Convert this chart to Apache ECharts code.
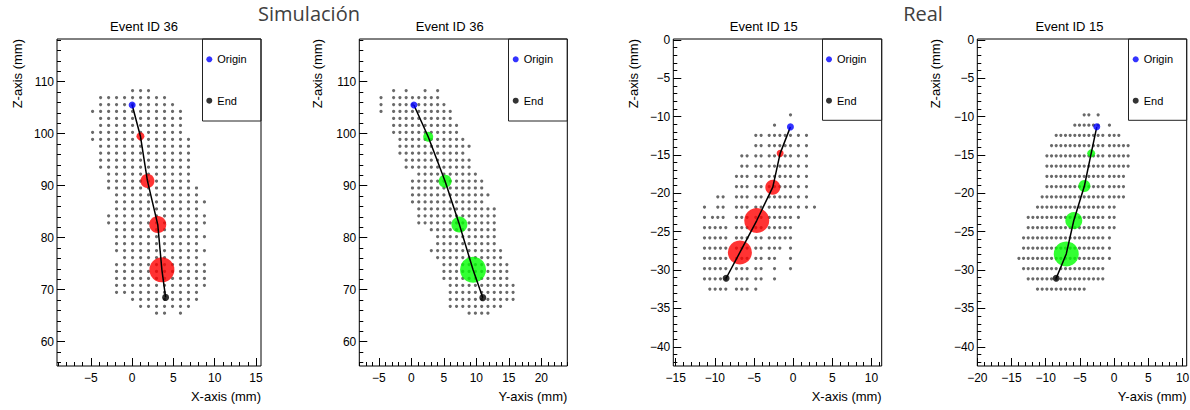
<!DOCTYPE html>
<html><head><meta charset="utf-8">
<script src="https://cdn.jsdelivr.net/npm/echarts@6/dist/echarts.min.js"></script>
<style>html,body{margin:0;padding:0;background:#fff}#c{width:1190px;height:410px}</style>
</head><body><div id="c"></div>
<script>
// ---------- DATA ----------
// Simulation (Event ID 36): z rows of the hit grid (mm)
const SIM_ROWS_Z = [108.27,106.93,105.59,104.26,102.92,101.58,100.24,98.90,97.57,96.23,94.89,93.55,92.21,90.88,89.54,88.20,86.86,85.52,84.19,82.85,81.51,80.17,78.83,77.50,76.16,74.82,73.48,72.14,70.81,69.47,68.13,66.79,65.45];
// X-Z view: hit columns (mm) and hit pattern per row
const SIM_XZ_COLS = [-4.79,-3.82,-2.85,-1.89,-0.92,0.05,1.02,1.98,2.95,3.92,4.89,5.85,6.82,7.79,8.75];
const SIM_XZ_HITS = [
".....xxx.......",".xxxxxxxxx.....",".xxxxxxxxxx....","xxxxxxxxxxxx...",".xxxxxxxxxxx...",
".xxxxxxxxxxx...","xxxxxxxxxxxx...","xxxxxxxxxxxxx..",".xxxxxxxxxxxx..",".xxxxxxxxxxxx..",
".xxxxxxxxxxxx..",".xxxxxxxxxxxx..","..xxxxxxxxxxx..","..xxxxxxxxxxx..","..xxxxxxxxxxxx.",
"...xxxxxxxxxxx.","...xxxxxxxxxxxx","...xxxxxxxxxxx.","..xxxxxxxxxxxxx","..xxxxxxxxxxxxx",
"...xxxxxxxxxxx.","...xxxxxxxxxxxx","...xxxxxxxxxxx.","...xxxxxxxxxxxx","....xxxxxxxxxx.",
"...xxxxxxxxxxxx","...xxxxxxxxxxxx","...xxxxxxxxxxxx","...xxxxxxxxxxxx","...xxxxxxxxxxx.",
".....xxxxxxxxx.","......xxxxxxx..","........xx.x..."];
// Y-Z view
const SIM_YZ_COLS = [-4.66,-3.69,-2.72,-1.75,-0.79,0.18,1.15,2.12,3.08,4.05,5.02,5.99,6.96,7.92,8.89,9.86,10.83,11.79,12.76,13.73,14.70,15.66];
const SIM_YZ_HITS = [
"..x.x..x.x............","x.xxxxxxxx............","x.xxxxxxxxx...........","x.xxxxxxxxxx..........","..xxxxxxxxxx..........",
"..xxxxxxxxxxx.........","..xxxxxxxxxxx.........","...xxxxxxxxxxx........","...xxxxxxxxxxxx.......","...xxxxxxxxxxx........",
"....xxxxxxxxxxx.......","....xxxxxxxxxxx.......","......xxxxxxxxxx......",".....xxxxxxxxxxxx.....",".....xxxxxxxxxxxx.....",
".....xxxxxxxxxxxxx....",".....xxxxxxxxxxxx.....","......xxxxxxxxxxxxx...","......xxxxxxxxxxxxx...","......xxxxxxxxxxxxx...",
"........xxxxxxxxxxx...",".........xxxxxxxxxx...",".........xxxxxxxxxx...","........xxxxxxxxxxxx..",".........xxxxxxxxxxx..",
"..........xxxxxxxxxxx.","..........xxxxxxxxxxx.","..........xxxxxxxxxxx.","...........xxxxxxxxxxx","...........xxxxxxxxxxx",
"...........xxxxxxxxxxx","...........xxxxxxxxx..","..............xxxx...."];
// clusters: [coordinate, z, marker diameter]
const SIM_XZ_CLUSTERS = [[1.0,99.5,8],[1.85,90.9,14],[3.1,82.5,17],[3.6,73.8,25]];
const SIM_YZ_CLUSTERS = [[2.6,99.4,10],[5.2,90.85,13],[7.4,82.5,16],[9.5,73.8,26]];
const SIM_XZ_ORIGIN = [0.0,105.5],  SIM_XZ_END = [4.05,68.5];
const SIM_YZ_ORIGIN = [0.4,105.5],  SIM_YZ_END = [11.0,68.45];

// Real (Event ID 15)
const REAL_ROWS_Z = [-9.78,-11.12,-12.45,-13.79,-15.12,-16.46,-17.79,-19.13,-20.46,-21.80,-23.13,-24.47,-25.80,-27.14,-28.47,-29.81,-31.14,-32.48];
const REAL_XZ_COLS = [-11.32,-10.64,-10.30,-9.96,-9.62,-9.28,-8.94,-8.60,-7.24,-6.56,-5.88,-4.77,-4.09,-3.06,-2.38,-1.70,-1.02,-0.34,0.67,1.70,2.72];
const REAL_XZ_HITS = [
".................x...","..............x......","...........xxxxxxxxx.","...........xxxxxxxxx.",".........xxxxxxxxxxx.",
".........xxxxxxxxxxx.","........xxxxxxxxxxxx.","........xxxxxxxxxxxx.","....x.x.xxxxxxxxxxxx.","x...x.x.xxxxxxxxxxxxx",
"x.x.x.x.xxxxxxxxxxx..","xx.x.x.xxxxxxxxxxx...","xx.x.x.xxxxxxxxxxx...","xx.x.x.xxxxxxxxx.x...","xx.x.x.xxxxxxxx..x...",
"xx.x.x.xxxxxx.x..x...","xx.x.x.xxxxxx.x......",".x.x.x.xxxxx........."];
const REAL_YZ_COLS = [-13.92,-13.24,-12.56,-11.88,-11.20,-10.52,-9.83,-9.15,-8.47,-7.79,-7.11,-6.43,-5.75,-5.07,-4.38,-3.70,-3.02,-2.34,-1.66,-0.69,0.00,0.68,1.36,2.04];
const REAL_YZ_HITS = [
"..............xx.x......","............xxxxxx.x....","........xxxxxxxxxxxxxx..",".......xxxxxxxxxxxxxxxxx","......xxxxxxxxxxxxxxxxxx",
"......xxxxxxxxxxxxxxxxxx","......xxxxxxxxxxxxxxxxx.","......xxxxxxxxxxxxxxxxx.",".....xxxxxxxxxxxxxxxxxx.","....xxxxxxxxxxxxxxxxx...",
"..xxxxxxxxxxxxxxxxxxx...","..xxxxxxxxxxxxxxxxxxx...",".xxxxxxxxxxxxxxxxxxx....",".xxxxxxxxxxxxxxxxxxx....","xxxxxxxxxxxxxxxxxxxx....",
".xxxxxxxxxxxxxxxxxx.....","..xxxxxxxxxxxxxxxxx.....","....xxxxxxxxxxx........."];
const REAL_XZ_CLUSTERS = [[-1.66,-14.8,7],[-2.6,-19.2,15],[-4.65,-23.55,25],[-6.8,-27.7,24]];
const REAL_YZ_CLUSTERS = [[-3.36,-14.8,8],[-4.35,-19.05,12],[-5.9,-23.55,17],[-7.0,-27.9,25]];
const REAL_XZ_ORIGIN = [-0.35,-11.35], REAL_XZ_END = [-8.56,-31.07];
const REAL_YZ_ORIGIN = [-2.54,-11.34], REAL_YZ_END = [-8.47,-31.07];

// tick labels
const SIM_X_TICKS = [-5,0,5,10,15];
const SIM_Y_TICKS = [-5,0,5,10,15,20];
const SIM_Z_TICKS = [60,70,80,90,100,110];
const REAL_X_TICKS = [-15,-10,-5,0,5,10];
const REAL_Y_TICKS = [-20,-15,-10,-5,0,5,10];
const REAL_Z_TICKS = [-40,-35,-30,-25,-20,-15,-10,-5,0];

const BIG_LABELS = ['Simulación','Real'];
const TITLES = ['Event ID 36','Event ID 36','Event ID 15','Event ID 15'];
const X_NAMES = ['X-axis (mm)','Y-axis (mm)','X-axis (mm)','Y-axis (mm)'];
const Y_NAME = 'Z-axis (mm)';

// ---------- LAYOUT ----------
const FONT = "'Liberation Sans', Arial, Helvetica, sans-serif";
const PANELS = [
 {cols:SIM_XZ_COLS, rows:SIM_ROWS_Z, hits:SIM_XZ_HITS, cl:SIM_XZ_CLUSTERS, o:SIM_XZ_ORIGIN, e:SIM_XZ_END, color:'#ff0000',
  xr:[-9.1,15.6], yr:[55.3,118.2], xt:SIM_X_TICKS, yt:SIM_Z_TICKS, xs:1, ys:2,
  g:{left:57,top:39,width:204,height:327}, tx:144, ynx:17, lx:206.3, bx:202.5, bw:58.5, bh:82},
 {cols:SIM_YZ_COLS, rows:SIM_ROWS_Z, hits:SIM_YZ_HITS, cl:SIM_YZ_CLUSTERS, o:SIM_YZ_ORIGIN, e:SIM_YZ_END, color:'#00ff00',
  xr:[-8,24], yr:[55.3,118.2], xt:SIM_Y_TICKS, yt:SIM_Z_TICKS, xs:1, ys:2,
  g:{left:359.3,top:39,width:208,height:327}, tx:449.7, ynx:317.5, lx:512.7, bx:508.5, bw:58.8, bh:82},
 {cols:REAL_XZ_COLS, rows:REAL_ROWS_Z, hits:REAL_XZ_HITS, cl:REAL_XZ_CLUSTERS, o:REAL_XZ_ORIGIN, e:REAL_XZ_END, color:'#ff0000',
  xr:[-15.3,11.3], yr:[-42.5,0.1], xt:REAL_X_TICKS, yt:REAL_Z_TICKS, xs:1, ys:1,
  g:{left:673.3,top:39,width:208.4,height:327}, tx:763.7, ynx:633, lx:826, bx:822.5, bw:59.2, bh:81.3},
 {cols:REAL_YZ_COLS, rows:REAL_ROWS_Z, hits:REAL_YZ_HITS, cl:REAL_YZ_CLUSTERS, o:REAL_YZ_ORIGIN, e:REAL_YZ_END, color:'#00ff00',
  xr:[-20,10.6], yr:[-42.5,0.1], xt:REAL_Y_TICKS, yt:REAL_Z_TICKS, xs:1, ys:1,
  g:{left:977.3,top:39,width:209.4,height:327}, tx:1069.5, ynx:935, lx:1132.7, bx:1128.5, bw:58.2, bh:81.3}
];

function hitPoints(cols, rows, masks){
  const out=[];
  masks.forEach((m,r)=>{ for(let c=0;c<m.length;c++) if(m[c]==='x') out.push([cols[c], rows[r]]); });
  return out;
}
function minorTicks(range, step, majors){
  const out=[];
  for(let v=Math.ceil(range[0]/step)*step; v<=range[1]+1e-9; v+=step){
    if(majors.indexOf(v)<0) out.push(v);
  }
  return out;
}
const fmt = v => String(v).replace('-', '\u2212');

const grids=[], xAxes=[], yAxes=[], series=[], legends=[], gfx=[];
PANELS.forEach((p,i)=>{
  grids.push(Object.assign({show:true, borderColor:'#000', borderWidth:1, containLabel:false, outerBoundsMode:'none'}, p.g));
  const baseAx = {type:'value', gridIndex:i, splitLine:{show:false}, axisLine:{show:false, onZero:false}};
  xAxes.push(Object.assign({}, baseAx, {min:p.xr[0], max:p.xr[1], position:'bottom',
    axisTick:{show:true, inside:true, length:8, customValues:p.xt, lineStyle:{color:'#000',width:1}},
    axisLabel:{show:true, customValues:p.xt, formatter:fmt, margin:6, fontSize:12, fontFamily:FONT, color:'#000'}}));
  xAxes.push(Object.assign({}, baseAx, {min:p.xr[0], max:p.xr[1], position:'bottom',
    axisTick:{show:true, inside:true, length:4, customValues:minorTicks(p.xr,p.xs,p.xt), lineStyle:{color:'#000',width:1}},
    axisLabel:{show:false}}));
  yAxes.push(Object.assign({}, baseAx, {min:p.yr[0], max:p.yr[1], position:'left',
    axisTick:{show:true, inside:true, length:8, customValues:p.yt, lineStyle:{color:'#000',width:1}},
    axisLabel:{show:true, customValues:p.yt, formatter:fmt, margin:3, fontSize:12, fontFamily:FONT, color:'#000'}}));
  yAxes.push(Object.assign({}, baseAx, {min:p.yr[0], max:p.yr[1], position:'left',
    axisTick:{show:true, inside:true, length:4, customValues:minorTicks(p.yr,p.ys,p.yt), lineStyle:{color:'#000',width:1}},
    axisLabel:{show:false}}));
  const ax = {xAxisIndex:2*i, yAxisIndex:2*i};
  series.push(Object.assign({type:'scatter', name:'hits', data:hitPoints(p.cols,p.rows,p.hits), symbol:'circle', symbolSize:3.2,
    itemStyle:{color:'#444444'}, silent:true, z:2}, ax));
  series.push(Object.assign({type:'scatter', name:'clusters', data:p.cl, symbol:'circle', symbolSize:d=>d[2],
    itemStyle:{color:p.color}, silent:true, z:3}, ax));
  series.push(Object.assign({type:'line', name:'track', data:[p.o].concat(p.cl.map(c=>[c[0],c[1]])).concat([p.e]),
    showSymbol:false, symbol:'none', lineStyle:{color:'#000', width:1.5}, silent:true, z:4}, ax));
  series.push(Object.assign({type:'scatter', name:'Origin', data:[p.o], symbol:'circle', symbolSize:7,
    itemStyle:{color:'#0000ff'}, z:5}, ax));
  series.push(Object.assign({type:'scatter', name:'End', data:[p.e], symbol:'circle', symbolSize:7,
    itemStyle:{color:'#000000'}, z:5}, ax));
  legends.push({data:['Origin','End'], orient:'vertical', left:p.lx, top:52.3, itemGap:27.4, itemWidth:6, itemHeight:6,
    padding:0, icon:'circle', selectedMode:false, textStyle:{fontSize:11, fontFamily:FONT, color:'#000', lineHeight:14}});
  gfx.push({type:'rect', shape:{x:p.bx, y:39, width:p.bw, height:p.bh}, style:{fill:'none', stroke:'#222', lineWidth:1}, z:10});
  gfx.push({type:'text', x:p.tx, y:26, style:{text:TITLES[i], fill:'#000', font:'13px '+FONT, align:'center', verticalAlign:'middle', textAlign:'center', textVerticalAlign:'middle'}});
  gfx.push({type:'text', x:p.g.left+p.g.width, y:396, style:{text:X_NAMES[i], fill:'#000', font:'13px '+FONT, align:'right', verticalAlign:'middle', textAlign:'right', textVerticalAlign:'middle'}});
  gfx.push({type:'text', x:p.ynx, y:39, rotation:Math.PI/2, style:{text:Y_NAME, fill:'#000', font:'13px '+FONT, align:'right', verticalAlign:'middle', textAlign:'right', textVerticalAlign:'middle'}});
});
gfx.push({type:'text', x:309, y:13, style:{text:BIG_LABELS[0], fill:'#404040', font:"20px 'Open Sans', 'Noto Sans', sans-serif", align:'center', verticalAlign:'middle', textAlign:'center', textVerticalAlign:'middle'}});
gfx.push({type:'text', x:923, y:13, style:{text:BIG_LABELS[1], fill:'#404040', font:"20px 'Open Sans', 'Noto Sans', sans-serif", align:'center', verticalAlign:'middle', textAlign:'center', textVerticalAlign:'middle'}});

const chart = echarts.init(document.getElementById('c'), null, {renderer:'svg', width:1190, height:410});
chart.setOption({
  animation:false, backgroundColor:'#fff',
  grid:grids, xAxis:xAxes, yAxis:yAxes, series:series, legend:legends,
  graphic:{elements:gfx}
});
</script></body></html>
